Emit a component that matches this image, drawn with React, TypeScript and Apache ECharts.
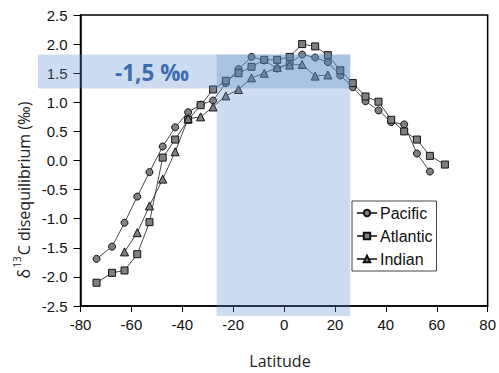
import React, { useEffect, useRef } from 'react';
import * as echarts from 'echarts';

const latitudes = [-73.7, -67.6, -62.7, -57.7, -52.9, -47.7, -42.8, -37.7, -32.8, -27.9, -22.9, -17.9, -12.8, -7.8, -2.7, 2.2, 7.1, 12.2, 17.2, 22.1, 27.0, 32.0, 37.1, 42.1, 47.2, 52.2, 57.3, 63.2];
const pacific = [-1.69, -1.48, -1.07, -0.62, -0.2, 0.24, 0.57, 0.83, 0.96, 1.03, 1.33, 1.57, 1.78, 1.72, 1.58, 1.67, 1.82, 1.77, 1.69, 1.46, 1.26, 1.02, 0.86, 0.66, 0.62, 0.12, -0.19, null];
const atlantic = [-2.1, -1.93, -1.89, -1.61, -1.06, 0.05, 0.36, 0.7, 0.95, 1.22, 1.37, 1.5, 1.61, 1.73, 1.73, 1.78, 2.0, 1.96, 1.81, 1.55, 1.33, 1.1, 1.01, 0.7, 0.5, 0.36, 0.08, -0.07];
const indian = [null, null, -1.57, -1.24, -0.78, -0.32, 0.15, 0.72, 0.75, 0.92, 1.11, 1.22, 1.42, 1.5, 1.6, 1.64, 1.65, 1.45, 1.47, null, null, null, null, null, null, null, null, null];

const xTicks = { min: -80, max: 80, interval: 20 };
const yTicks = { min: -2.5, max: 2.5, interval: 0.5 };
const tropicsBand = [-26.5, 26];
const offsetBand = [1.235, 1.82];
const bandLabel = '-1,5 ‰';

const pairs = (vals: (number | null)[]) =>
  latitudes.map((lat, i) => [lat, vals[i]]).filter((p) => p[1] !== null);

const markerStyle = { color: '#808080', borderColor: '#111', borderWidth: 1 };
const lineStyle = { color: '#4a4a4a', width: 1 };

export default function App() {
  const ref = useRef<HTMLDivElement>(null);
  useEffect(() => {
    if (!ref.current) return;
    const chart = echarts.init(ref.current, null, { renderer: 'svg' });
    const mk = (name: string, data: any[], symbol: string, size: number) => ({
      name,
      type: 'line',
      data,
      symbol,
      symbolSize: size,
      showAllSymbol: true,
      itemStyle: markerStyle,
      lineStyle,
      z: 3,
    });
    chart.setOption({
      animation: false,
      grid: { left: 80.5, right: 10, top: 15, bottom: 67, show: true, borderColor: '#000', borderWidth: 1.5, backgroundColor: 'transparent' },
      legend: {
        orient: 'vertical',
        left: 352,
        top: 201,
        padding: [4, 4, 4, 4],
        itemGap: 7,
        itemWidth: 20,
        itemHeight: 8,
        borderColor: '#444',
        borderWidth: 1,
        backgroundColor: '#fff',
        textStyle: { fontFamily: 'Liberation Sans', fontSize: 16, lineHeight: 16, color: '#111', padding: [0, 0, 0, -2] },
        data: ['Pacific', 'Atlantic', 'Indian'],
      },
      xAxis: {
        type: 'value',
        min: xTicks.min,
        max: xTicks.max,
        interval: xTicks.interval,
        axisLine: { show: true, onZero: false, lineStyle: { color: '#000', width: 1.5 } },
        axisTick: { show: true, inside: false, length: 6, lineStyle: { color: '#000', width: 1 } },
        axisLabel: { fontFamily: 'Liberation Sans', fontSize: 15, color: '#111', margin: 11 },
        splitLine: { show: false },
      },
      yAxis: {
        type: 'value',
        min: yTicks.min,
        max: yTicks.max,
        interval: yTicks.interval,
        axisLine: { show: true, onZero: false, lineStyle: { color: '#000', width: 1.5 } },
        axisTick: { show: true, inside: false, length: 7, lineStyle: { color: '#000', width: 1 } },
        axisLabel: { fontFamily: 'Liberation Sans', fontSize: 15, color: '#111', margin: 13, formatter: (v: number) => v.toFixed(1) },
        splitLine: { show: false },
      },
      series: [
        mk('Pacific', pairs(pacific), 'circle', 7),
        mk('Atlantic', pairs(atlantic), 'rect', 7),
        mk('Indian', pairs(indian), 'triangle', 8),
      ],
    });

    const [xl, yTop] = chart.convertToPixel({ gridIndex: 0 }, [tropicsBand[0], offsetBand[1]]);
    const [xr, yAxisPx] = chart.convertToPixel({ gridIndex: 0 }, [tropicsBand[1], yTicks.min]);
    const [, yBot] = chart.convertToPixel({ gridIndex: 0 }, [0, offsetBand[0]]);
    const bandFill = 'rgba(90,140,205,0.3)';

    chart.setOption({
      graphic: [
        { type: 'rect', z: 50, silent: true, shape: { x: xl, y: yTop, width: xr - xl, height: yAxisPx + 10 - yTop }, style: { fill: bandFill } },
        { type: 'rect', z: 50, silent: true, shape: { x: 38, y: yTop, width: xr - 38, height: yBot - yTop }, style: { fill: bandFill } },
        {
          type: 'text', z: 60, x: 152, y: (yTop + yBot) / 2 + 1,
          style: { text: bandLabel, fontFamily: 'Open Sans', fontWeight: 'bold', fontSize: 22.5, fill: '#3f6db0', align: 'center', verticalAlign: 'middle' },
        },
        {
          type: 'text', z: 60, x: 280, y: 361,
          style: { text: 'Latitude', fontFamily: 'Open Sans', fontSize: 16, fill: '#222', align: 'center', verticalAlign: 'middle' },
        },
        {
          type: 'text', z: 60, x: 22, y: 190, rotation: Math.PI / 2,
          style: {
            text: '{a|δ}{s|13}{a|C disequilibrium (‰)}',
            align: 'center', verticalAlign: 'middle',
            rich: {
              a: { fontFamily: 'Open Sans', fontSize: 16, fill: '#222', lineHeight: 20, verticalAlign: 'bottom' },
              s: { fontFamily: 'Open Sans', fontSize: 10, fill: '#222', lineHeight: 20, verticalAlign: 'top', padding: [0, 1, 0, 1] },
            },
          },
        },
      ],
    });
    return () => chart.dispose();
  }, []);
  return <div ref={ref} style={{ position: 'absolute', left: 0, top: 0, width: 499, height: 373 }} />;
}
